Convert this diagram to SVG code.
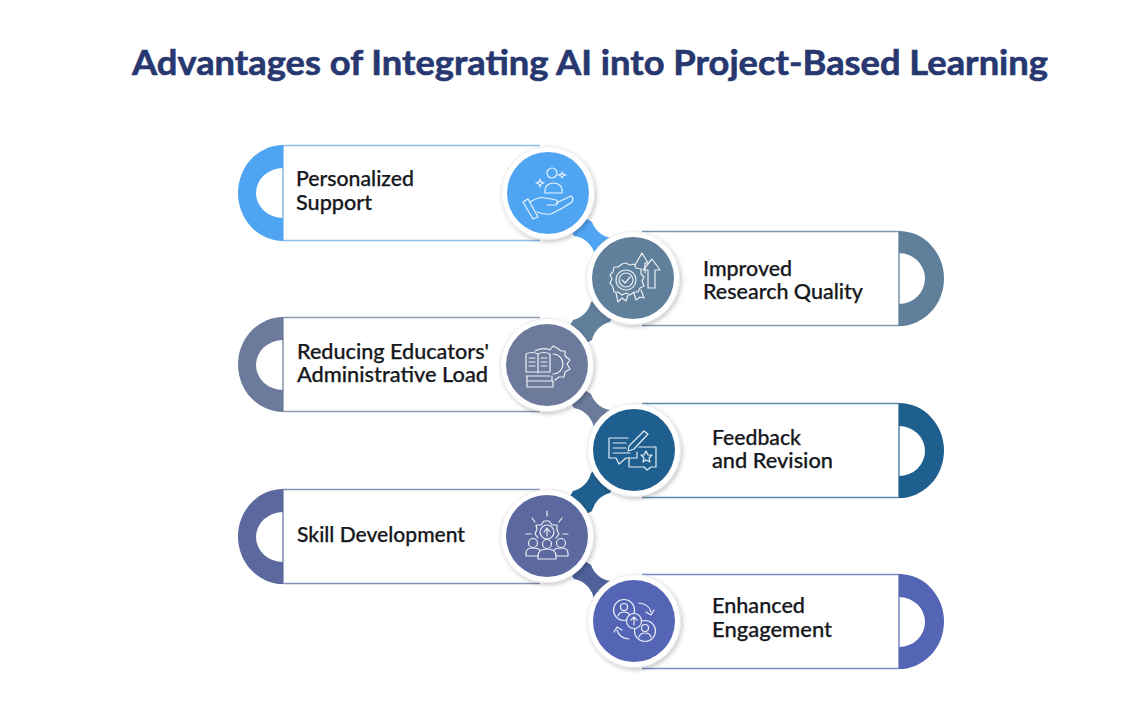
<svg xmlns="http://www.w3.org/2000/svg" width="1125" height="713" viewBox="0 0 1125 713">
<style>
.title{font:700 33.5px "Lato","Liberation Sans",sans-serif;fill:#27376f;stroke:#27376f;stroke-width:.6}
.lb{font:500 20.5px "Lato","Liberation Sans",sans-serif;fill:#16181c;stroke:#16181c;stroke-width:.25}
.pill{fill:none;stroke-width:1.6}
.ring{fill:#fff;stroke:#ececec;stroke-width:1;filter:url(#sh)}
.ic{fill:none;stroke:#fff;stroke-width:1.2;stroke-linecap:round;stroke-linejoin:round;opacity:.88}
</style>
<defs>
<filter id="sh" x="-20%" y="-20%" width="145%" height="145%"><feDropShadow dx="1.5" dy="2" stdDeviation="2" flood-color="#000" flood-opacity=".22"/></filter>
</defs>
<rect width="1125" height="713" fill="#fff"/>
<text class="title" x="132" y="74.500" textLength="916" lengthAdjust="spacingAndGlyphs">Advantages of Integrating AI into Project-Based Learning</text>

<g id="connectors">
<path fill="#4fa5f2" d="M548,193L592,222A24,24 0 0 0 613,238L633,278L595,256A24,24 0 0 0 574,236Z"/>
<path fill="#5f7f9b" d="M633,278L610,322A24,24 0 0 0 592,340L547,365L573,320A24,24 0 0 0 591,302Z"/>
<path fill="#6c7b9c" d="M547,365L591,394A24,24 0 0 0 611,410L634,450L594,429A24,24 0 0 0 574,408Z"/>
<path fill="#1f5f8f" d="M634,450L610,493A24,24 0 0 0 592,511L547,536L573,491A24,24 0 0 0 591,473Z"/>
<path fill="#4f6199" d="M547,536L591,565A24,24 0 0 0 611,581L634,621L594,600A24,24 0 0 0 574,579Z"/>
</g>

<g id="node-1">
<path class="pill" stroke="#8dbde8" d="M540,145.500H283V240.500H540"/>
<path fill="#4fa5f2" d="M283,145A45,48 0 0 0 283,241V218A27,25 0 0 1 283,168Z"/>
<text class="lb" x="296" y="186" textLength="118" lengthAdjust="spacingAndGlyphs">Personalized</text>
<text class="lb" x="296" y="210" textLength="76" lengthAdjust="spacingAndGlyphs">Support</text>
<circle class="ring" cx="548" cy="193" r="46.500"/>
<circle cx="548" cy="193" r="41" fill="#4fa5f2"/>
<g class="ic" transform="translate(548,193)">
<circle cx="4" cy="-20" r="5"/><path d="M-3,0V-3A8.500,7 0 0 1 14,-3V0Z"/>
<path d="M-8,-14Q-8,-10.500 -4,-10Q-8,-9.500 -8,-6Q-8,-9.500 -12,-10Q-8,-10.500 -8,-14Z"/>
<path d="M14,-21Q14,-18.500 18,-18Q14,-17.500 14,-15Q14,-17.500 10,-18Q14,-18.500 14,-21Z"/>
<path d="M-25,9L-20,6L-10,24L-15,26Z"/>
<path d="M-18,9Q-8,3 -3,5Q4,6 8,7Q12,9 8,12L-1,12M8,10L23,3Q26,5 24,9Q14,16 3,21Q-3,22 -11,19"/>
</g>
</g>

<g id="node-2">
<path class="pill" stroke="#7f99ae" d="M642,231.500H899V325.500H642"/>
<path fill="#5f7f9b" d="M899,231A45,47.500 0 0 1 899,326V304A26,25.500 0 0 0 899,253Z"/>
<text class="lb" x="703" y="276" textLength="89" lengthAdjust="spacingAndGlyphs">Improved</text>
<text class="lb" x="703" y="299" textLength="160" lengthAdjust="spacingAndGlyphs">Research Quality</text>
<circle class="ring" cx="633" cy="278" r="46.500"/>
<circle cx="633" cy="278" r="41" fill="#5f7f9b"/>
<g class="ic" transform="translate(633,278)">
<path d="M-7,-15L-3,-13L1,-14L3,-10L8,-9L8,-4L11,-1L9,3L11,8L7,10L5,14L1,14L-3,17L-7,15L-11,17L-15,14L-19,14L-20,9L-23,5L-21,1L-23,-3L-20,-6L-19,-11L-15,-11L-11,-14Z"/>
<circle cx="-7" cy="2" r="10"/><circle cx="-7" cy="2" r="7"/>
<path d="M-11,2L-8,5L-3,-1"/>
<path d="M-17,15L-15,24L-11,20L-7,23L-5,17M1,15L3,22L7,19L11,20L8,12"/>
<path d="M2,-13L9,-25L15,-15H12V-5"/>
<path d="M15,10V-8H10L19,-19L27,-8H22V10Z"/>
</g>
</g>

<g id="node-3">
<path class="pill" stroke="#8d99b3" d="M540,317.500H283V411.500H540"/>
<path fill="#6c7b9c" d="M283,317A45,47.500 0 0 0 283,412V390A27,25 0 0 1 283,340Z"/>
<text class="lb" x="297" y="359" textLength="192" lengthAdjust="spacingAndGlyphs">Reducing Educators'</text>
<text class="lb" x="297" y="382" textLength="191" lengthAdjust="spacingAndGlyphs">Administrative Load</text>
<circle class="ring" cx="547" cy="365" r="46.500"/>
<circle cx="547" cy="365" r="41" fill="#6c7b9c"/>
<g class="ic" transform="translate(547,365)">
<path d="M-21,-11Q-15,-14 -9,-11Q-3,-14 3,-11V7H-21ZM-9,-11V8"/>
<path d="M-18,-7H-12M-18,-3H-12M-18,1H-12M-6,-7H0M-6,-3H0M-6,1H0"/>
<path d="M-12,-14Q-4,-18 3,-15L6,-19L10,-17L14,-14L18,-14L18,-9L23,-5L20,-1L23,4L18,7L17,12L12,12L8,15"/>
<path d="M6,-11A10,10 0 0 1 6,9"/>
<path d="M-21,11H3M-20,11V16H5V11M-20,16V22H6V16"/>
</g>
</g>

<g id="node-4">
<path class="pill" stroke="#5c8bad" d="M642,403.500H899V497.500H642"/>
<path fill="#1f5f8f" d="M899,403A45,47.500 0 0 1 899,498V476A26,25 0 0 0 899,426Z"/>
<text class="lb" x="712" y="445" textLength="89" lengthAdjust="spacingAndGlyphs">Feedback</text>
<text class="lb" x="712" y="468" textLength="121" lengthAdjust="spacingAndGlyphs">and Revision</text>
<circle class="ring" cx="634" cy="450" r="46.500"/>
<circle cx="634" cy="450" r="41" fill="#1f5f8f"/>
<g class="ic" transform="translate(634,450)">
<path d="M-6,-12H-25V8H-18L-15,14L-8,8H3V2"/>
<path d="M-21,-7H-8M-21,-2H-8M-21,3H-4"/>
<path d="M-5,-4L10,-19L14,-16L0,-1L-6,1Z"/>
<path d="M5,-3H22V17H17L13,20L10,17H-5V8"/>
<path d="M12,1L14,5L18,5L15,8L16,12L12,10L9,12L10,8L7,5L10,5Z"/>
</g>
</g>

<g id="node-5">
<path class="pill" stroke="#8691b8" d="M540,489.500H283V583.500H540"/>
<path fill="#5b699f" d="M283,489A45,47.500 0 0 0 283,584V562A27,25 0 0 1 283,512Z"/>
<text class="lb" x="297" y="542" textLength="168" lengthAdjust="spacingAndGlyphs">Skill Development</text>
<circle class="ring" cx="547" cy="536" r="46.500"/>
<circle cx="547" cy="536" r="41" fill="#5b699f"/>
<g class="ic" transform="translate(547,536)">
<path d="M0,-25V-20M-15,-18L-12,-14M15,-18L12,-14M-21,-2H-16M16,-2H21"/>
<path d="M-9,2L-12,-2L-10,-7L-11,-11L-6,-11L-3,-15L2,-15L5,-11L10,-11L10,-6L12,-2L9,2"/>
<circle cx="0" cy="-4" r="7"/>
<path d="M0,0V-7M-3,-4L0,-8L3,-4"/>
<circle cx="0" cy="8" r="4.500"/><circle cx="-14" cy="7" r="4.500"/><circle cx="14" cy="7" r="4.500"/>
<path d="M-9,23V20Q-9,13 0,13Q9,13 9,20V23Z"/>
<path d="M-9,20H-21V17Q-21,12 -14,12Q-9,12 -7,14M9,20H21V17Q21,12 14,12Q9,12 7,14"/>
</g>
</g>

<g id="node-6">
<path class="pill" stroke="#7e8cc9" d="M642,574.500H899V668.500H642"/>
<path fill="#5465b5" d="M899,574A45,47.500 0 0 1 899,669V647A26,25 0 0 0 899,597Z"/>
<text class="lb" x="712" y="613" textLength="93" lengthAdjust="spacingAndGlyphs">Enhanced</text>
<text class="lb" x="712" y="637" textLength="120" lengthAdjust="spacingAndGlyphs">Engagement</text>
<circle class="ring" cx="634" cy="621" r="46.500"/>
<circle cx="634" cy="621" r="41" fill="#5465b5"/>
<g class="ic" transform="translate(634,621)">
<circle cx="-10" cy="-11" r="10.500"/><circle cx="-10" cy="-14" r="3.500"/><path d="M-16,-5Q-15,-9 -10,-9Q-5,-9 -4,-5"/>
<circle cx="11" cy="10" r="10.500"/><circle cx="11" cy="7" r="3.500"/><path d="M5,16Q6,12 11,12Q16,12 17,16"/>
<circle cx="0" cy="0" r="7.500" fill="#5465b5"/><path d="M0,4V-4M-3,-1L0,-4L3,-1"/>
<path d="M5,-18Q15,-17 17,-9M12,-9L17,-6L20,-11"/>
<path d="M-5,18Q-15,17 -17,9M-12,9L-17,6L-20,11"/>
</g>
</g>
</svg>
